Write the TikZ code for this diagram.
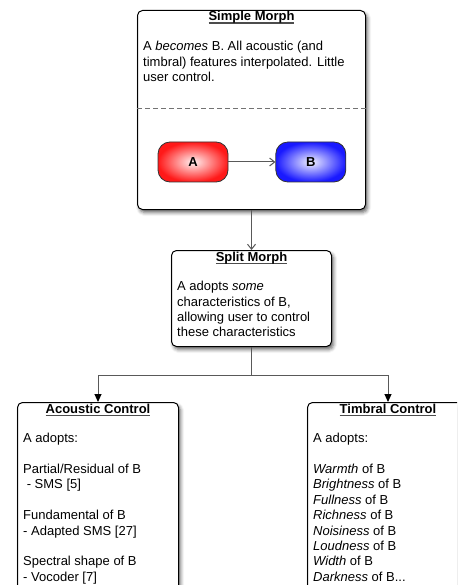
\documentclass[tikz,border=0pt]{standalone}
\usepackage{fontspec}
\setmainfont{Liberation Sans}
\usetikzlibrary{positioning,arrows.meta,shadows.blur}

\newcommand\boxhead[1]{\setbox0\hbox{\bfseries #1}\rlap{\color{black!70}\rule[-2.6pt]{\wd0}{1.1pt}}\box0}

\tikzset{
  card/.style={draw=black, line width=1pt, rounded corners=5pt, fill=white,
    anchor=north west, inner sep=0pt,
    blur shadow={shadow xshift=2pt, shadow yshift=-3pt, shadow blur radius=3.5pt, shadow opacity=60}},
  head/.style={anchor=base, inner sep=0pt},
  body/.style={anchor=north west, inner sep=0pt, align=left,
    execute at begin node=\rule{0pt}{11pt}},
  pill/.style={draw=black!80, line width=.8pt, rounded corners=12pt,
    minimum width=70pt, minimum height=40pt, font=\fontsize{13}{15.4}\selectfont\bfseries},
  link/.style={draw=black!65, line width=1pt},
  cut/.style={draw=black!55, line width=1pt, dash pattern=on 5pt off 3pt},
}

\begin{document}
\begin{tikzpicture}[x=1pt, y=-1pt, font=\fontsize{13}{15.4}\selectfont]
  \useasboundingbox (0,0) rectangle (457,585);
  \clip (0,0) rectangle (457,585);

  \node[card, minimum width=228pt, minimum height=199pt] (simple) at (137,10) {};
  \node[head] (simplehd) at ([yshift=-11pt]simple.north) {\boxhead{Simple Morph}};
  \node[body] (simpletxt) at ([xshift=6pt,yshift=-31pt]simple.north west)
    {A \emph{becomes} B. All acoustic (and\\timbral) features interpolated. Little\\user control.};
  \draw[cut] ([yshift=-99pt]simple.north west) -- ([yshift=-99pt]simple.north east);
  \node[pill, inner color=red!5, outer color=red!90] (a) at (193,162) {A};
  \node[pill, right=47pt of a, inner color=blue!5, outer color=blue!90] (b) {B};
  \draw[link, -{Straight Barb[length=5pt,width=8pt]}] (a) -- (b);

  \node[card, minimum width=160pt, minimum height=96pt, below=40pt of simple] (split) {};
  \node[head] (splithd) at ([yshift=-11pt]split.north) {\boxhead{Split Morph}};
  \node[body] (splittxt) at ([xshift=6pt,yshift=-31pt]split.north west)
    {A adopts \emph{some}\\characteristics of B,\\allowing user to control\\these characteristics};
  \draw[link, -{Straight Barb[length=5pt,width=8pt]}] (simple) -- (split);

  \node[card, minimum width=161pt, minimum height=200pt] (acou) at (17,402) {};
  \node[head] (acouhd) at ([yshift=-11pt]acou.north) {\boxhead{Acoustic Control}};
  \node[body] (acoutxt) at ([xshift=6pt,yshift=-31pt]acou.north west)
    {A adopts:\\[15.4pt]Partial/Residual of B\\\hspace*{3.6pt}- SMS [5]\\[15.4pt]Fundamental of B\\- Adapted SMS [27]\\[15.4pt]Spectral shape of B\\- Vocoder [7]};

  \node[card, minimum width=161pt, minimum height=200pt] (timb) at (307,402) {};
  \node[head] (timbhd) at ([yshift=-11pt]timb.north) {\boxhead{Timbral Control}};
  \node[body] (timbtxt) at ([xshift=6pt,yshift=-31pt]timb.north west)
    {A adopts:\\[15.4pt]\emph{Warmth} of B\\\emph{Brightness} of B\\\emph{Fullness} of B\\\emph{Richness} of B\\\emph{Noisiness} of B\\\emph{Loudness} of B\\\emph{Width} of B\\\emph{Darkness} of B...};

  \coordinate[below=28pt of split.south] (fork);
  \draw[link] (split) -- (fork);
  \draw[link, -{Triangle[length=8pt,width=7pt,black]}] (fork) -| (acou);
  \draw[link, -{Triangle[length=8pt,width=7pt,black]}] (fork) -| (timb);
\end{tikzpicture}
\end{document}
